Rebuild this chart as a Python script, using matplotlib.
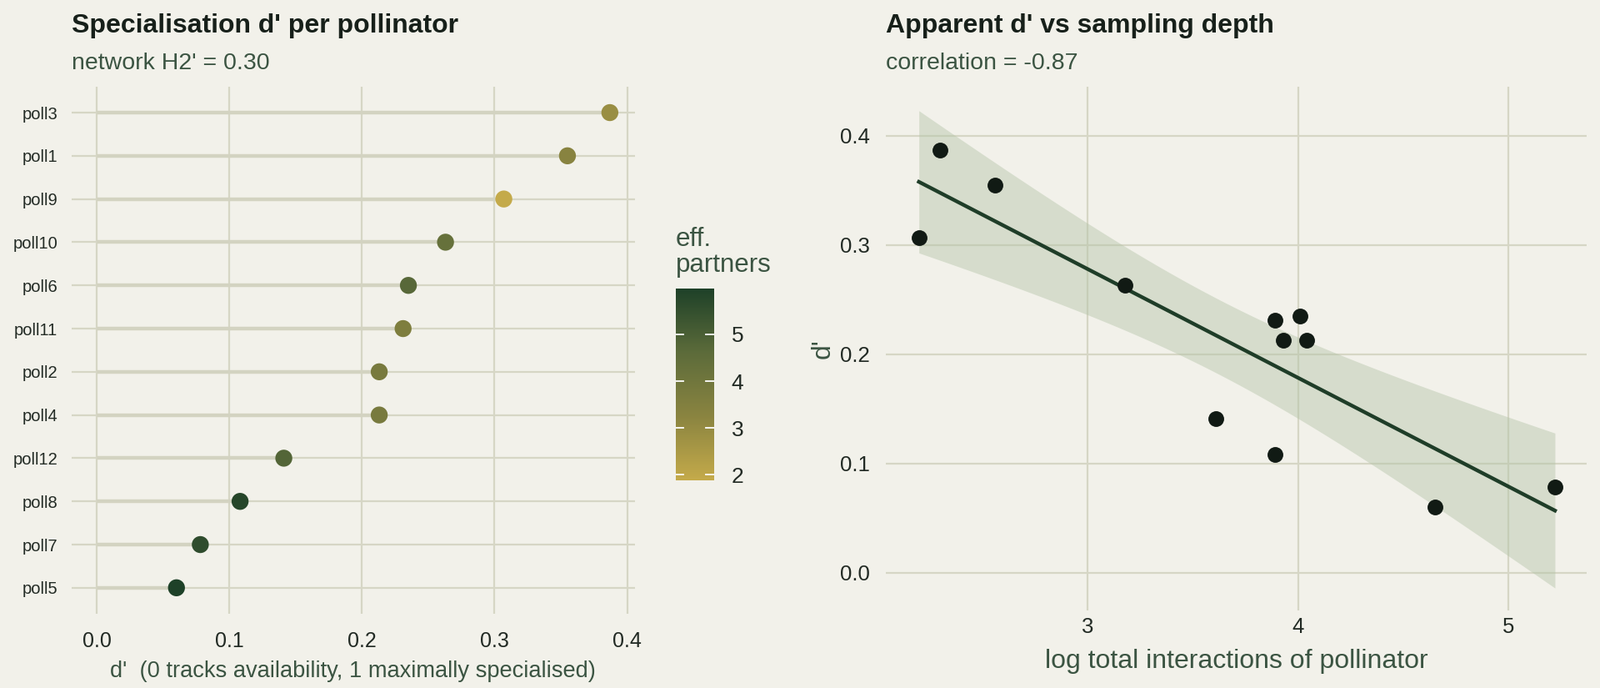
import numpy as np
import matplotlib
matplotlib.use("Agg")
import matplotlib.pyplot as plt
from matplotlib.colors import LinearSegmentedColormap, Normalize

plt.rcParams['font.family'] = ['Liberation Sans', 'DejaVu Sans']

# ---- data ----
pollinators = ["poll3", "poll1", "poll9", "poll10", "poll6", "poll11",
               "poll2", "poll4", "poll12", "poll8", "poll7", "poll5"]
d_prime = [0.387, 0.355, 0.307, 0.263, 0.235, 0.231,
           0.213, 0.213, 0.141, 0.108, 0.078, 0.060]
eff_partners = [2.9, 3.3, 1.88, 4.3, 4.7, 3.6, 3.8, 3.8, 4.8, 5.8, 5.6, 5.98]
log_total = [2.30, 2.56, 2.20, 3.18, 4.01, 3.89, 3.93, 4.04, 3.61, 3.89, 5.22, 4.65]
network_H2 = 0.30
colorbar_ticks = [2, 3, 4, 5]
left_xticks = [0.0, 0.1, 0.2, 0.3, 0.4]
right_xticks = [3, 4, 5]
right_yticks = [0.0, 0.1, 0.2, 0.3, 0.4]

BG = "#f2f1ea"
GRID = "#d6d6c5"
SEG = "#d3d3c1"
TITLE_C = "#17201a"
SUB_C = "#3b5442"
TICK_C = "#222a24"

fig = plt.figure(figsize=(19.2, 8.25), dpi=100, facecolor=BG)

cmap = LinearSegmentedColormap.from_list("effp", ["#c4aa4a", "#8a8440", "#5c6b3a", "#1e4128"])
norm = Normalize(vmin=min(eff_partners), vmax=max(eff_partners))

# ---- left panel ----
axL = fig.add_axes([0.0446, 0.108, 0.3523, 0.766], facecolor=BG)
n = len(pollinators)
ypos = np.arange(n)[::-1]
axL.hlines(ypos, 0, d_prime, color=SEG, lw=3.2, zorder=2)
axL.scatter(d_prime, ypos, c=eff_partners, cmap=cmap, norm=norm, s=215, zorder=3, linewidths=0)
axL.set_yticks(ypos)
axL.set_yticklabels(pollinators)
axL.set_xticks(left_xticks)
axL.set_xticklabels([f"{v:.1f}" for v in left_xticks])
axL.set_xlim(-0.0193, 0.406)
axL.set_ylim(-0.6, n - 1 + 0.6)
axL.grid(True, color=GRID, lw=1.6, zorder=0)
axL.set_axisbelow(True)
for s in axL.spines.values():
    s.set_visible(False)
axL.tick_params(axis='both', length=0)
axL.tick_params(axis='y', labelsize=14.5, pad=12, labelcolor=TICK_C)
axL.tick_params(axis='x', labelsize=18, pad=15, labelcolor=TICK_C)
axL.set_xlabel("d'  (0 tracks availability, 1 maximally specialised)", fontsize=19.6, color=SUB_C, labelpad=8)

fig.text(0.0446, 0.9527, "Specialisation d' per pollinator", fontsize=23, fontweight='bold',
         color=TITLE_C, ha='left', va='baseline')
fig.text(0.0446, 0.8994, f"network H2' = {network_H2:.2f}", fontsize=20.5, color=SUB_C,
         ha='left', va='baseline')

# ---- colorbar ----
cax = fig.add_axes([0.4222, 0.3018, 0.024, 0.2788])
sm = matplotlib.cm.ScalarMappable(norm=norm, cmap=cmap)
cb = fig.colorbar(sm, cax=cax, ticks=colorbar_ticks)
cb.outline.set_visible(False)
cax.tick_params(length=0, labelsize=19, pad=15, labelcolor=TICK_C)
for t in colorbar_ticks:
    cax.plot([0, 0.2], [t, t], color="white", lw=1.3, transform=cax.get_yaxis_transform())
    cax.plot([0.8, 1.0], [t, t], color="white", lw=1.3, transform=cax.get_yaxis_transform())
fig.text(0.4222, 0.5964, "eff.\npartners", fontsize=22.5, color=SUB_C, ha='left', va='bottom',
         linespacing=1.05)

# ---- right panel ----
axR = fig.add_axes([0.5539, 0.1131, 0.4377, 0.7608], facecolor=BG)
x = np.array(log_total)
y = np.array(d_prime)
slope, intercept = np.polyfit(x, y, 1)
xs = np.linspace(x.min(), x.max(), 100)
yhat = intercept + slope * xs
resid = y - (intercept + slope * x)
dof = len(x) - 2
s_err = np.sqrt(np.sum(resid ** 2) / dof)
tval = 2.228  # t(0.975, df=10)
se = s_err * np.sqrt(1 / len(x) + (xs - x.mean()) ** 2 / np.sum((x - x.mean()) ** 2))
axR.fill_between(xs, yhat - tval * se, yhat + tval * se, color="#b4c4a8", alpha=0.45,
                 lw=0, zorder=2)
axR.plot(xs, yhat, color="#1f3d28", lw=3.2, zorder=3)
axR.scatter(x, y, color="#111a14", s=185, zorder=4, linewidths=0)
axR.set_xticks(right_xticks)
axR.set_yticks(right_yticks)
axR.set_yticklabels([f"{v:.1f}" for v in right_yticks])
axR.set_xlim(2.045, 5.37)
axR.set_ylim(-0.0344, 0.4448)
axR.grid(True, color=GRID, lw=1.6, zorder=0)
axR.set_axisbelow(True)
for s in axR.spines.values():
    s.set_visible(False)
axR.tick_params(axis='both', length=0, labelcolor=TICK_C)
axR.tick_params(axis='y', labelsize=18.5, pad=14)
axR.tick_params(axis='x', labelsize=18.5, pad=6)
axR.set_xlabel("log total interactions of pollinator", fontsize=23, color=SUB_C, labelpad=10)
axR.set_ylabel("d'", fontsize=23, color=SUB_C, labelpad=4)

fig.text(0.5539, 0.9527, "Apparent d' vs sampling depth", fontsize=23, fontweight='bold',
         color=TITLE_C, ha='left', va='baseline')
fig.text(0.5539, 0.8994, "correlation = -0.87", fontsize=20.5, color=SUB_C,
         ha='left', va='baseline')

fig.savefig("out.png", dpi=100, facecolor=BG)
